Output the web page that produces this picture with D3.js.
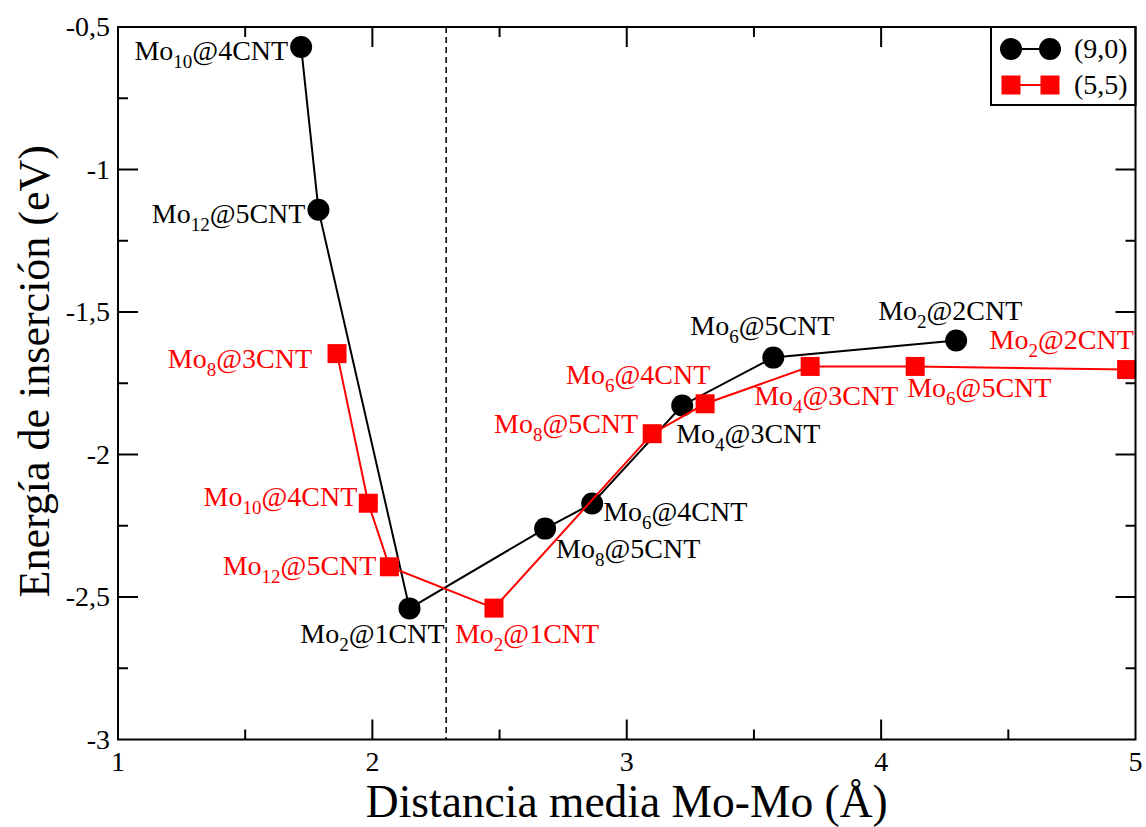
<!DOCTYPE html>
<html>
<head>
<meta charset="utf-8">
<script src="https://cdn.jsdelivr.net/npm/d3@7"></script>
<style>
  html, body { margin: 0; padding: 0; background: #fff; }
  svg { display: block; }
  svg text { font-family: "Times New Roman", "Liberation Serif", Times, serif; }
</style>
</head>
<body>
<svg id="chart" width="1146" height="827"></svg>
<script>
// Mean Mo-Mo distance (Å) and insertion energy (eV) for each Mo cluster inside the nanotube
const zigzagX = [1.72, 1.788, 2.146, 2.679, 2.864, 3.218, 3.576, 4.295];
const zigzagY = [-0.57, -1.141, -2.54, -2.26, -2.172, -1.828, -1.66, -1.60];
const zigzagN = ["10", "12", "2", "8", "6", "4", "6", "2"];
const zigzagTube = ["4CNT", "5CNT", "1CNT", "5CNT", "4CNT", "3CNT", "5CNT", "2CNT"];

const armchairX = [1.861, 1.984, 2.067, 2.478, 3.10, 3.308, 3.721, 4.134, 4.965];
const armchairY = [-1.646, -2.171, -2.394, -2.539, -1.927, -1.822, -1.691, -1.691, -1.702];
const armchairN = ["8", "10", "12", "2", "8", "6", "4", "6", "2"];
const armchairTube = ["3CNT", "4CNT", "5CNT", "1CNT", "5CNT", "4CNT", "3CNT", "5CNT", "2CNT"];

const seriesNames = ["(9,0)", "(5,5)"];
const xTicks = [1, 2, 3, 4, 5];
const xMinorTicks = [1.5, 2.5, 3.5, 4.5];
const yTicks = [-3, -2.5, -2, -1.5, -1, -0.5];
const yMinorTicks = [-2.75, -2.25, -1.75, -1.25, -0.75];
const dividerX = 2.29;

// Label placement: [anchor, dx, dy] in pixels from the marker centre
const zigzagLabelPos = [
  ["end", -13, 13], ["end", -13, 13], ["end", 35, 35], ["start", 11, 29],
  ["start", 11, 17], ["start", -6, 38], ["start", -83, -23], ["start", -78, -21]
];
const armchairLabelPos = [
  ["end", -25, 14], ["end", -11, 3], ["end", -13, 8], ["start", -39, 35],
  ["end", -14, -1], ["start", -139, -20], ["start", -56, 39], ["start", -8, 31],
  ["start", -137, -21]
];

const W = 1146, H = 827;
const margin = { left: 118, right: 10.5, top: 27, bottom: 87.5 };
const svg = d3.select("#chart");

const x = d3.scaleLinear().domain([1, 5]).range([margin.left, W - margin.right]);
const y = d3.scaleLinear().domain([-3, -0.5]).range([H - margin.bottom, margin.top]);
const fmt = d => String(d).replace(".", ",");

const x0 = x.range()[0], x1 = x.range()[1];
const y0 = y.range()[0], y1 = y.range()[1];

// Frame with inward ticks on all four sides
const axisG = svg.append("g").attr("stroke", "#000").attr("stroke-width", 2);
function ticks(vals, len) {
  vals.forEach(v => {
    axisG.append("line").attr("x1", x(v)).attr("x2", x(v)).attr("y1", y0).attr("y2", y0 - len);
    axisG.append("line").attr("x1", x(v)).attr("x2", x(v)).attr("y1", y1).attr("y2", y1 + len);
  });
}
function yticks(vals, len) {
  vals.forEach(v => {
    axisG.append("line").attr("y1", y(v)).attr("y2", y(v)).attr("x1", x0).attr("x2", x0 + len);
    axisG.append("line").attr("y1", y(v)).attr("y2", y(v)).attr("x1", x1).attr("x2", x1 - len);
  });
}
ticks(xTicks.slice(1, -1), 20);
ticks(xMinorTicks, 10);
yticks(yTicks.slice(1, -1), 20);
yticks(yMinorTicks, 10);

// Tick labels
svg.append("g").selectAll("text").data(xTicks).join("text")
  .attr("x", d => x(d)).attr("y", y0 + 31)
  .attr("text-anchor", "middle").attr("font-size", 28).text(fmt);
svg.append("g").selectAll("text").data(yTicks).join("text")
  .attr("x", x0 - 8).attr("y", d => y(d) + 9)
  .attr("text-anchor", "end").attr("font-size", 28).text(fmt);

// Axis titles
svg.append("text").attr("x", (x0 + x1) / 2).attr("y", 817)
  .attr("text-anchor", "middle").attr("font-size", 45.5)
  .text("Distancia media Mo-Mo (Å)");
svg.append("text").attr("transform", `translate(49,${(y0 + y1) / 2 - 12}) rotate(-90)`)
  .attr("text-anchor", "middle").attr("font-size", 44)
  .text("Energía de inserción (eV)");

// Dashed divider
svg.append("line").attr("x1", x(dividerX)).attr("x2", x(dividerX))
  .attr("y1", y1).attr("y2", y0)
  .attr("stroke", "#000").attr("stroke-width", 1.5).attr("stroke-dasharray", "6,4");

const zigzag = zigzagX.map((v, i) => ({ x: v, y: zigzagY[i], n: zigzagN[i], tube: zigzagTube[i], pos: zigzagLabelPos[i] }));
const armchair = armchairX.map((v, i) => ({ x: v, y: armchairY[i], n: armchairN[i], tube: armchairTube[i], pos: armchairLabelPos[i] }));

const line = d3.line().x(d => x(d.x)).y(d => y(d.y));

// (9,0) series
svg.append("path").datum(zigzag).attr("d", line)
  .attr("fill", "none").attr("stroke", "#000").attr("stroke-width", 2);
svg.append("g").selectAll("circle").data(zigzag).join("circle")
  .attr("cx", d => x(d.x)).attr("cy", d => y(d.y)).attr("r", 11).attr("fill", "#000");

// (5,5) series
svg.append("path").datum(armchair).attr("d", line)
  .attr("fill", "none").attr("stroke", "#ff0000").attr("stroke-width", 2);
svg.append("g").selectAll("rect").data(armchair).join("rect")
  .attr("x", d => x(d.x) - 9.5).attr("y", d => y(d.y) - 9.5)
  .attr("width", 19).attr("height", 19).attr("fill", "#ff0000");

// Point labels: Mo_n@kCNT with subscript
function labels(data, color) {
  const t = svg.append("g").selectAll("text").data(data).join("text")
    .attr("x", d => x(d.x) + d.pos[1]).attr("y", d => y(d.y) + d.pos[2])
    .attr("text-anchor", d => d.pos[0])
    .attr("font-size", 28).attr("fill", color);
  t.append("tspan").text("Mo");
  t.append("tspan").attr("font-size", 19).attr("dy", 8).text(d => d.n);
  t.append("tspan").attr("dy", -8).text(d => "@" + d.tube);
}
labels(zigzag, "#000");
labels(armchair, "#ff0000");

// Legend
const lg = svg.append("g");
lg.append("rect").attr("x", 991).attr("y", y1).attr("width", x1 - 991).attr("height", 78)
  .attr("fill", "#fff").attr("stroke", "#000").attr("stroke-width", 2);
const legendRows = [
  { name: seriesNames[0], color: "#000", shape: "circle", cy: 49 },
  { name: seriesNames[1], color: "#ff0000", shape: "square", cy: 85 }
];
legendRows.forEach(r => {
  lg.append("line").attr("x1", 1011).attr("x2", 1050).attr("y1", r.cy).attr("y2", r.cy)
    .attr("stroke", r.color).attr("stroke-width", 2);
  [1011, 1050].forEach(cx => {
    if (r.shape === "circle") {
      lg.append("circle").attr("cx", cx).attr("cy", r.cy).attr("r", 11).attr("fill", r.color);
    } else {
      lg.append("rect").attr("x", cx - 9.5).attr("y", r.cy - 9.5).attr("width", 19).attr("height", 19).attr("fill", r.color);
    }
  });
  lg.append("text").attr("x", 1074).attr("y", r.cy + 9).attr("font-size", 28).text(r.name);
});

// Frame on top
svg.append("rect").attr("x", x0).attr("y", y1).attr("width", x1 - x0).attr("height", y0 - y1)
  .attr("fill", "none").attr("stroke", "#000").attr("stroke-width", 2);
</script>
</body>
</html>
